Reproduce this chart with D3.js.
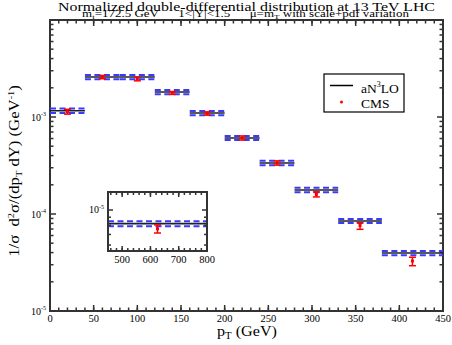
<!DOCTYPE html>
<html>
<head>
  <meta charset="UTF-8">
  <title>pT distribution 1&lt;|Y|&lt;1.5</title>
  <script src="https://d3js.org/d3.v7.min.js"></script>
  <style>
    body { margin: 0; background: #fff; }
    text { font-family: "Liberation Serif", "Times New Roman", serif; fill: #000; }
  </style>
</head>
<body>
<svg id="chart" width="452" height="345"></svg>
<script>
  /// data
  var binLo   = [0, 40, 80, 120, 160, 200, 240, 280, 330, 380];
  var binHi   = [40, 80, 120, 160, 200, 240, 280, 330, 380, 450];
  var theory  = [1.16e-3, 2.58e-3, 2.58e-3, 1.81e-3, 1.10e-3, 6.08e-4, 3.36e-4, 1.77e-4, 8.48e-5, 3.96e-5];
  var theoryUp = [1.22e-3, 2.71e-3, 2.71e-3, 1.90e-3, 1.155e-3, 6.38e-4, 3.53e-4, 1.86e-4, 8.90e-5, 4.16e-5];
  var theoryDn = [1.10e-3, 2.45e-3, 2.45e-3, 1.72e-3, 1.045e-3, 5.78e-4, 3.19e-4, 1.68e-4, 8.06e-5, 3.76e-5];
  var cmsX    = [20, 60, 100, 140, 180, 220, 260, 305, 355, 415];
  var cmsVal  = [1.134e-3, 2.58e-3, 2.46e-3, 1.77e-3, 1.087e-3, 6.08e-4, 3.36e-4, 1.59e-4, 7.61e-5, 3.28e-5];
  var cmsHi   = [1.20e-3, 2.68e-3, 2.56e-3, 1.83e-3, 1.13e-3, 6.38e-4, 3.53e-4, 1.69e-4, 8.13e-5, 3.58e-5];
  var cmsLo   = [1.07e-3, 2.48e-3, 2.36e-3, 1.71e-3, 1.045e-3, 5.78e-4, 3.19e-4, 1.50e-4, 6.95e-5, 2.93e-5];

  // inset: last bin of the measurement, 450-800 GeV
  var insetBin = [450, 800];
  var insetTheory = [8.2e-6], insetUp = [8.5e-6], insetDn = [7.9e-6];
  var insetCmsX = [625], insetCmsVal = [7.6e-6], insetCmsHi = [8.05e-6], insetCmsLo = [7.15e-6];

  var xTicks = [0, 50, 100, 150, 200, 250, 300, 350, 400, 450];
  var yTicks = [1e-5, 1e-4, 1e-3];
  var yTickExp = ["-5", "-4", "-3"];
  var insetXTicks = [500, 600, 700, 800];

  /// layout
  var svg = d3.select("#chart");
  var axisColor = "#333";
  var plotLeft = 50, plotRight = 443, plotTop = 20, plotBottom = 311;

  var x = d3.scaleLinear().domain([0, 450]).range([plotLeft, plotRight]);
  var y = d3.scaleLog().domain([1e-5, 1e-2]).range([plotBottom, plotTop]);

  // the original fonts are a little wider than Liberation Serif: stretch a text to a width
  function stretchTo(t, cx, cy, width, rotate) {
    t.attr("x", 0).attr("y", 0).attr("text-anchor", "middle");
    var w = t.node().getComputedTextLength();
    var k = width / w;
    t.attr("transform", "translate(" + cx + "," + cy + ")" + (rotate ? " rotate(-90)" : "") +
      " scale(" + k + ",1)");
  }

  // title
  var title = svg.append("text").style("font-size", "13.5px")
    .text("Normalized double-differential distribution at 13 TeV LHC");
  stretchTo(title, 246.5, 10.5, 377);

  var sub = svg.append("text").style("font-size", "10px");
  sub.append("tspan").text("m");
  sub.append("tspan").attr("dy", 2).style("font-size", "7px").text("t");
  sub.append("tspan").attr("dy", -2).text("=172.5 GeV\u00a0\u00a0\u00a0\u00a0\u00a0\u00a01<|Y|<1.5\u00a0\u00a0\u00a0\u00a0\u00a0\u00a0\u03bc=m");
  sub.append("tspan").attr("dy", 2).style("font-size", "7px").text("T");
  sub.append("tspan").attr("dy", -2).text(" with scale+pdf variation");
  stretchTo(sub, 245.5, 17.2, 327);

  // draws a framed box with inward ticks on all four sides
  function frame(g, xs, ys, xMajor, xMinor, yMajor, yMinor, majLen, minLen) {
    var x0 = xs.range()[0], x1 = xs.range()[1], y0 = ys.range()[0], y1 = ys.range()[1];
    function ticks(vals, len) {
      vals.forEach(function(v) {
        var px = xs(v);
        g.append("line").attr("x1", px).attr("x2", px).attr("y1", y0).attr("y2", y0 - len);
        g.append("line").attr("x1", px).attr("x2", px).attr("y1", y1).attr("y2", y1 + len);
      });
    }
    function yticks(vals, len) {
      vals.forEach(function(v) {
        var py = ys(v);
        g.append("line").attr("x1", x0).attr("x2", x0 + len).attr("y1", py).attr("y2", py);
        g.append("line").attr("x1", x1).attr("x2", x1 - len).attr("y1", py).attr("y2", py);
      });
    }
    g.attr("stroke", axisColor).attr("stroke-width", 1.5);
    ticks(xMinor, minLen);
    ticks(xMajor, majLen);
    yticks(yMinor, minLen);
    yticks(yMajor, majLen);
    g.append("rect").attr("x", x0).attr("y", y1).attr("width", x1 - x0).attr("height", y0 - y1)
      .attr("fill", "none").attr("stroke-width", 2);
  }

  function logMinor(scale) {
    return scale.ticks().filter(function(v) {
      var m = v / Math.pow(10, Math.floor(Math.log10(v) + 1e-9));
      return Math.abs(m - 1) > 1e-6;
    });
  }

  // main frame
  frame(svg.append("g"), x, y, xTicks, d3.range(0, 451, 10), yTicks.concat([1e-2]), logMinor(y), 6, 3.5);

  svg.append("g").selectAll("text").data(xTicks).enter().append("text")
    .attr("x", function(d) { return x(d); }).attr("y", 322)
    .attr("text-anchor", "middle").style("font-size", "10.5px")
    .text(function(d) { return d; });

  function powLabel(g, px, py, exp, size) {
    var t = g.append("text").attr("x", px).attr("y", py).attr("text-anchor", "end")
      .style("font-size", size + "px");
    t.append("tspan").text("10");
    t.append("tspan").attr("dy", -size * 0.45).style("font-size", (size * 0.6) + "px").text(exp);
  }
  yTicks.forEach(function(v, i) { powLabel(svg, 46, y(v) + 3.5, yTickExp[i], 10); });

  // axis titles
  var xl = svg.append("text").style("font-size", "15px");
  xl.append("tspan").text("p");
  xl.append("tspan").attr("dy", 3).style("font-size", "10px").text("T");
  xl.append("tspan").attr("dy", -3).text(" (GeV)");
  stretchTo(xl, 247, 336, 60);

  var yl = svg.append("text").style("font-size", "14.5px");
  yl.append("tspan").text("1/\u03c3\u00a0\u00a0d");
  yl.append("tspan").attr("dy", -5).style("font-size", "9px").text("2");
  yl.append("tspan").attr("dy", 5).text("\u03c3/(dp");
  yl.append("tspan").attr("dy", 3).style("font-size", "9px").text("T");
  yl.append("tspan").attr("dy", -3).text(" dY) (GeV");
  yl.append("tspan").attr("dy", -5).style("font-size", "9px").text("-1");
  yl.append("tspan").attr("dy", 5).text(")");
  stretchTo(yl, 19, 171, 172, true);

  // theory bands and central values
  function drawTheory(g, xs, ys, lo, hi, c, up, dn) {
    [up, dn].forEach(function(arr) {
      g.selectAll(null).data(arr).enter().append("line")
        .attr("x1", function(d, i) { return xs(lo[i]); })
        .attr("x2", function(d, i) { return xs(hi[i]); })
        .attr("y1", function(d) { return ys(d); }).attr("y2", function(d) { return ys(d); })
        .attr("stroke", "#3a3aff").attr("stroke-width", 2).attr("stroke-dasharray", "6,3.5");
    });
    g.selectAll(null).data(c).enter().append("line")
      .attr("x1", function(d, i) { return xs(lo[i]); })
      .attr("x2", function(d, i) { return xs(hi[i]); })
      .attr("y1", function(d) { return ys(d); }).attr("y2", function(d) { return ys(d); })
      .attr("stroke", "#222").attr("stroke-width", 1.6);
  }

  function drawCms(g, xs, ys, px, val, hi, lo) {
    var red = "#f00";
    px.forEach(function(v, i) {
      var cx = xs(v);
      g.append("line").attr("x1", cx).attr("x2", cx).attr("y1", ys(hi[i])).attr("y2", ys(lo[i]))
        .attr("stroke", red).attr("stroke-width", 1.5);
      [hi[i], lo[i]].forEach(function(e) {
        g.append("line").attr("x1", cx - 3.5).attr("x2", cx + 3.5).attr("y1", ys(e)).attr("y2", ys(e))
          .attr("stroke", red).attr("stroke-width", 1.5);
      });
      g.append("rect").attr("x", cx - 1.5).attr("y", ys(val[i]) - 1.5).attr("width", 3).attr("height", 3)
        .attr("fill", red);
    });
  }

  drawTheory(svg.append("g"), x, y, binLo, binHi, theory, theoryUp, theoryDn);
  drawCms(svg.append("g"), x, y, cmsX, cmsVal, cmsHi, cmsLo);

  // legend
  var lg = svg.append("g");
  lg.append("rect").attr("x", 324).attr("y", 74).attr("width", 80).attr("height", 38)
    .attr("fill", "#fff").attr("stroke", "#000").attr("stroke-width", 1.2);
  lg.append("line").attr("x1", 330).attr("x2", 353).attr("y1", 85.5).attr("y2", 85.5)
    .attr("stroke", "#000").attr("stroke-width", 1.5);
  var lt = lg.append("text").attr("x", 361).attr("y", 93).style("font-size", "13.5px");
  lt.append("tspan").text("aN");
  lt.append("tspan").attr("dy", -6).style("font-size", "8px").text("3");
  lt.append("tspan").attr("dy", 6).text("LO");
  lg.append("circle").attr("cx", 341.5).attr("cy", 102).attr("r", 1.5).attr("fill", "#f00");
  lg.append("text").attr("x", 361).attr("y", 108).style("font-size", "13.5px").text("CMS");

  // inset
  var ix = d3.scaleLinear().domain(insetBin).range([108, 207]);
  var iy = d3.scaleLog().domain([5.5e-6, 1.3e-5]).range([251, 192]);
  var ig = svg.append("g");
  ig.append("rect").attr("x", 108).attr("y", 192).attr("width", 99).attr("height", 59).attr("fill", "#fff");
  drawTheory(ig.append("g"), ix, iy, [insetBin[0]], [insetBin[1]], insetTheory, insetUp, insetDn);
  drawCms(ig.append("g"), ix, iy, insetCmsX, insetCmsVal, insetCmsHi, insetCmsLo);
  frame(ig.append("g"), ix, iy, insetXTicks, d3.range(460, 801, 20),
        [1e-5], [6e-6, 7e-6, 8e-6, 9e-6], 5, 3);
  ig.selectAll(null).data(insetXTicks).enter().append("text")
    .attr("x", function(d) { return ix(d); }).attr("y", 263)
    .attr("text-anchor", "middle").style("font-size", "10.5px")
    .text(function(d) { return d; });
  powLabel(ig, 104, iy(1e-5) + 3.5, "-5", 10);
</script>
</body>
</html>
